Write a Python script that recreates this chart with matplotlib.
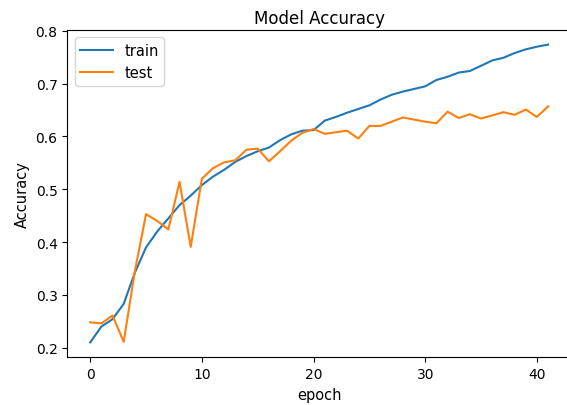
import matplotlib
matplotlib.use("Agg")
import matplotlib.pyplot as plt

epochs = list(range(42))
train_acc = [0.210, 0.240, 0.254, 0.283, 0.342, 0.390, 0.420, 0.445, 0.470, 0.488,
             0.508, 0.524, 0.537, 0.552, 0.563, 0.572, 0.579, 0.593, 0.604, 0.611,
             0.612, 0.630, 0.637, 0.645, 0.652, 0.659, 0.670, 0.679, 0.685, 0.690,
             0.695, 0.707, 0.713, 0.721, 0.724, 0.734, 0.744, 0.749, 0.758, 0.765,
             0.770, 0.774]
test_acc = [0.248, 0.246, 0.261, 0.211, 0.345, 0.453, 0.440, 0.424, 0.514, 0.391,
            0.520, 0.540, 0.551, 0.555, 0.575, 0.577, 0.553, 0.572, 0.592, 0.607,
            0.614, 0.605, 0.608, 0.611, 0.596, 0.620, 0.620, 0.628, 0.636, 0.632,
            0.628, 0.625, 0.647, 0.635, 0.642, 0.634, 0.640, 0.646, 0.641, 0.651,
            0.637, 0.657]

fig = plt.figure(figsize=(5.67, 4.06), dpi=100)
ax = fig.add_axes([67.3 / 567, (406 - 358.3) / 406, (571 - 67.3) / 567, (358.3 - 30.7) / 406])
ax.plot(epochs, train_acc, label="train")
ax.plot(epochs, test_acc, label="test")
ax.spines["right"].set_visible(False)
ax.set_title("Model Accuracy", fontsize=12, pad=5)
ax.set_ylabel("Accuracy", fontsize=10.5)
ax.set_xlabel("epoch", fontsize=10.5)
ax.tick_params(labelsize=10)
ax.legend(loc="upper left", fontsize=10.5, handlelength=2.2)
fig.savefig("out.png", dpi=100)
